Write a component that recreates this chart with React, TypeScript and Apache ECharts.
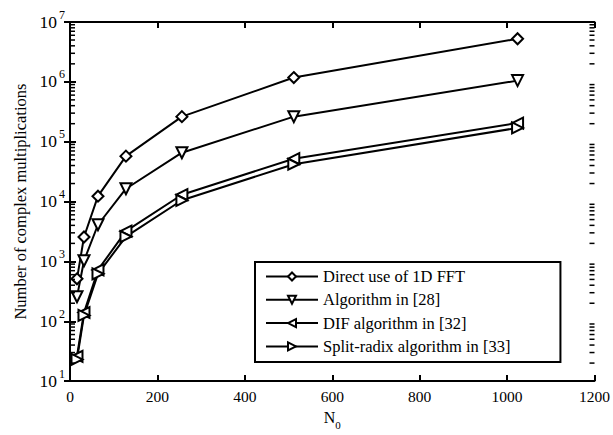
import React, { useEffect, useRef } from "react";
import * as echarts from "echarts";

const N0 = [16, 32, 64, 128, 256, 512, 1024];
const directFFT = [512, 2560, 12288, 57344, 262144, 1179648, 5242880];
const alg28 = [256, 1024, 4096, 16384, 65536, 262144, 1048576];
const dif32 = [26, 140, 720, 3200, 13000, 52000, 205000];
const split33 = [23, 125, 620, 2600, 10500, 42000, 170000];

const seriesNames = [
  "Direct use of 1D FFT",
  "Algorithm in [28]",
  "DIF algorithm in [32]",
  "Split-radix algorithm in [33]",
];

const FONT = "Liberation Serif";

export default function App() {
  const ref = useRef<HTMLDivElement>(null);
  useEffect(() => {
    if (!ref.current) return;
    const chart = echarts.init(ref.current, undefined, { renderer: "svg" });

    const minorVals: number[][] = [];
    for (let k = 1; k < 7; k++) {
      for (let m = 2; m <= 9; m++) minorVals.push([0, m * Math.pow(10, k)]);
    }

    const mk = (name: string, vals: number[], symbol: string, rotate: number, size: number) => ({
      name,
      type: "line",
      data: N0.map((n, i) => [n, vals[i]]),
      symbol,
      symbolSize: size,
      symbolRotate: rotate,
      showSymbol: true,
      lineStyle: { color: "#000", width: 2 },
      itemStyle: { color: "#fff", borderColor: "#000", borderWidth: 2 },
      z: 3,
    });

    const axisLine = { show: true, lineStyle: { color: "#000", width: 2 } };
    const majorTick = { show: true, inside: true, length: 6, lineStyle: { color: "#000", width: 2 } };

    chart.setOption({
      animation: false,
      backgroundColor: "#fff",
      grid: { left: 70, right: 16, top: 22, bottom: 45, containLabel: false },
      xAxis: [
        {
          type: "value",
          min: 0,
          max: 1200,
          interval: 200,
          position: "bottom",
          axisLine,
          axisTick: majorTick,
          axisLabel: { color: "#000", fontFamily: FONT, fontSize: 15.5, margin: 7, formatter: (v: number) => String(v) },
          splitLine: { show: false },
          name: "{n|N}{s|0}",
          nameLocation: "middle",
          nameGap: 25,
          nameTextStyle: {
            color: "#000",
            fontFamily: FONT,
            rich: {
              n: { fontSize: 16, lineHeight: 16, verticalAlign: "top", fontFamily: FONT, color: "#000" },
              s: { fontSize: 11, lineHeight: 11, padding: [10, 0, 0, 0], verticalAlign: "top", fontFamily: FONT, color: "#000" },
            },
          },
        },
        {
          type: "value",
          min: 0,
          max: 1200,
          interval: 200,
          position: "top",
          axisLine,
          axisTick: majorTick,
          axisLabel: { show: false },
          splitLine: { show: false },
        },
      ],
      yAxis: [
        {
          type: "log",
          logBase: 10,
          min: 10,
          max: 1e7,
          position: "left",
          axisLine,
          axisTick: majorTick,
          axisLabel: {
            margin: 5,
            formatter: (v: number) => `{b|10}{s|${Math.round(Math.log10(v))}}`,
            rich: {
              b: { fontSize: 17.5, lineHeight: 17, verticalAlign: "bottom", fontFamily: FONT, color: "#000" },
              s: { fontSize: 12, lineHeight: 12, padding: [0, 0, 10, 2], verticalAlign: "bottom", fontFamily: FONT, color: "#000" },
            },
          },
          splitLine: { show: false },
          name: "Number of complex multiplications",
          nameLocation: "middle",
          nameGap: 39,
          nameTextStyle: { color: "#000", fontFamily: FONT, fontSize: 16.5 },
        },
        {
          type: "log",
          logBase: 10,
          min: 10,
          max: 1e7,
          position: "right",
          axisLine,
          axisTick: majorTick,
          axisLabel: { show: false },
          splitLine: { show: false },
        },
      ],
      legend: {
        data: seriesNames,
        orient: "vertical",
        left: 255,
        top: 262,
        padding: [6, 50, 7, 10],
        itemWidth: 52,
        itemHeight: 10,
        itemGap: 6.3,
        borderColor: "#000",
        borderWidth: 2,
        borderRadius: 0,
        backgroundColor: "#fff",
        textStyle: { color: "#000", fontFamily: FONT, fontSize: 16.5, lineHeight: 17 },
      },
      series: [
        mk(seriesNames[0], directFFT, "diamond", 0, 11),
        mk(seriesNames[1], alg28, "triangle", 180, 11),
        mk(seriesNames[2], dif32, "triangle", 90, 11),
        mk(seriesNames[3], split33, "triangle", -90, 11),
        {
          name: "minor",
          type: "custom",
          coordinateSystem: "cartesian2d",
          silent: true,
          clip: false,
          z: 6,
          data: minorVals,
          renderItem: (_p: any, api: any) => {
            const v = api.value(1);
            const l = api.coord([0, v]);
            const r = api.coord([1200, v]);
            return {
              type: "group",
              children: [
                { type: "line", shape: { x1: l[0], y1: l[1], x2: l[0] + 5, y2: l[1] }, style: { stroke: "#000", lineWidth: 1.5 } },
                { type: "line", shape: { x1: r[0], y1: r[1], x2: r[0] - 5, y2: r[1] }, style: { stroke: "#000", lineWidth: 1.5 } },
              ],
            };
          },
        },
      ],
    });
    return () => chart.dispose();
  }, []);
  return <div ref={ref} style={{ position: "fixed", left: 0, top: 0, width: 613, height: 435 }} />;
}
